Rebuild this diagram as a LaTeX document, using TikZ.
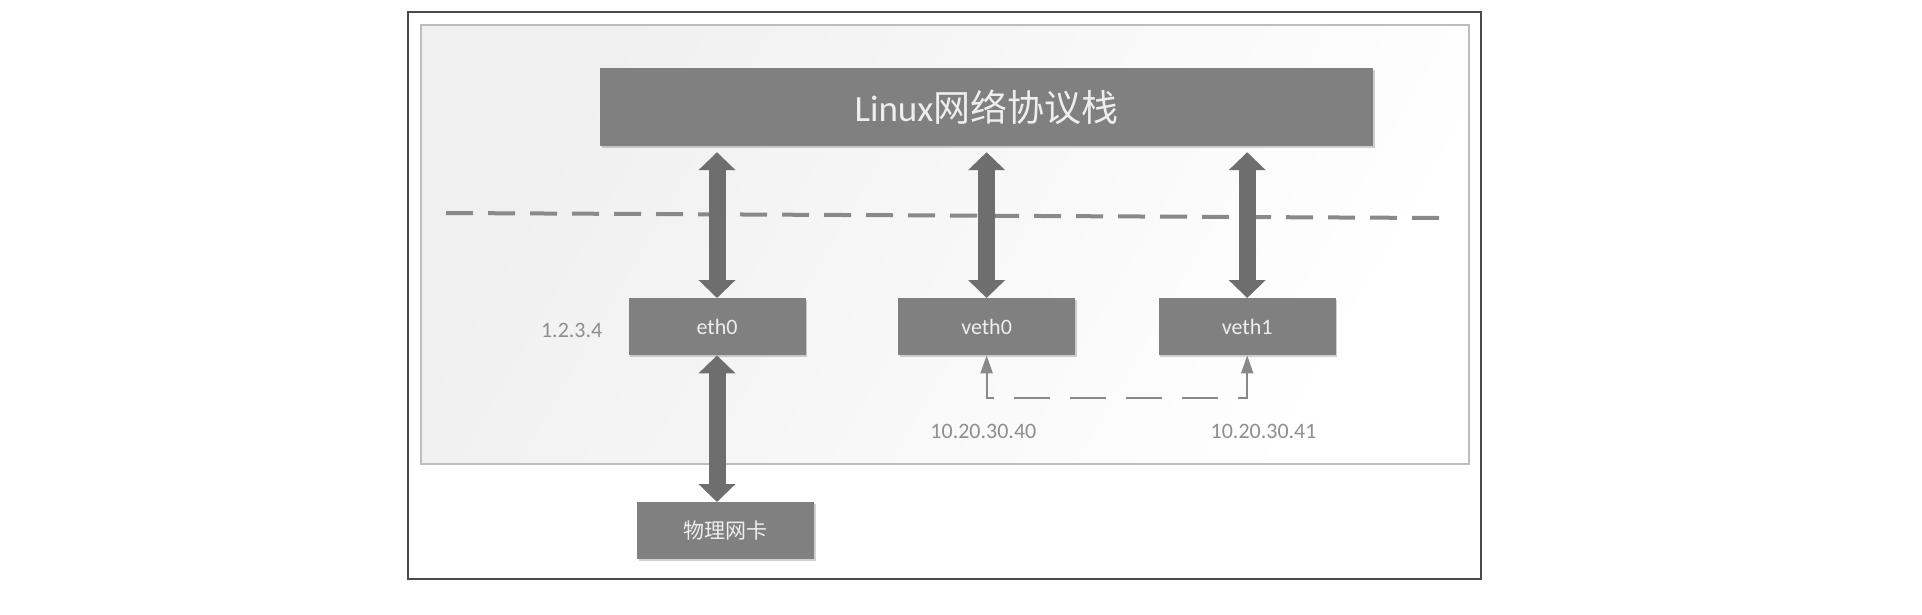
\documentclass[tikz,border=0pt]{standalone}
\usepackage{fontspec}
\setmainfont{Carlito}
\newfontfamily\cjk{Noto Sans CJK SC}
\usetikzlibrary{arrows.meta,shadows}
\definecolor{boxgray}{HTML}{808080}
\definecolor{arrowgray}{HTML}{6E6E6E}
\definecolor{boxtext}{HTML}{EEEEEE}
\definecolor{ipgray}{HTML}{8E8E8E}
\definecolor{dashgray}{HTML}{898989}
\definecolor{framegray}{HTML}{4A4A4A}
\definecolor{innergray}{HTML}{BDBDBD}
\tikzset{
  graybox/.style={draw=none, fill=boxgray, text=boxtext, inner sep=0pt,
    drop shadow={shadow xshift=1.5pt, shadow yshift=-1.5pt, opacity=0.18, fill=black}},
  smallbox/.style={graybox, minimum width=177pt, minimum height=57pt,
    font=\fontsize{22}{26}\selectfont},
  iplabel/.style={text=ipgray, inner sep=0pt, font=\fontsize{22}{26}\selectfont},
  bigarrow/.style={draw=arrowgray, line width=17pt,
    {Triangle[width=36pt,length=18pt]}-{Triangle[width=36pt,length=18pt]}},
  linkarrow/.style={draw=dashgray, line width=2pt,
    dash pattern=on 36pt off 20pt, dash phase=3pt,
    {Triangle[width=12pt,length=18pt]}-{Triangle[width=12pt,length=18pt]}},
  sepline/.style={draw=dashgray, line width=4pt, dash pattern=on 27pt off 15pt},
}
\begin{document}
\begin{tikzpicture}[x=1pt,y=-1pt]
\useasboundingbox (0,0) rectangle (1922,614);
% outer frame
\draw[framegray, line width=2pt] (408,12) rectangle (1481,579);
% inner area
\draw[innergray, line width=2pt, left color=black!6, right color=white, shading angle=60]
  (421,25) rectangle (1469,464);
% separator
\coordinate (sepL) at (446,213);
\coordinate (sepR) at (1440,218);
\draw[sepline] (sepL) -- (sepR);
% nodes
\node[graybox, minimum width=773pt, minimum height=78pt,
  font=\fontsize{37}{42}\selectfont] (linux) at (986.5,107) {Linux{\cjk 网络协议栈}};
\node[smallbox] (eth0) at (717,326.7) {eth0};
\node[smallbox] (veth0) at (986.6,326.7) {veth0};
\node[smallbox] (veth1) at (1247.2,326.7) {veth1};
\node[smallbox, font=\cjk\fontsize{21}{26}\selectfont] (nic) at (725.5,530.7) {物理网卡};
\node[iplabel] (ip1) at (571.7,330) {1.2.3.4};
\node[iplabel] (ip2) at (983.4,431) {10.20.30.40};
\node[iplabel] (ip3) at (1263.6,431) {10.20.30.41};
% arrows
\draw[bigarrow] ([yshift=-6pt]eth0.north |- linux.south) -- (eth0.north);
\draw[bigarrow] ([yshift=-6pt]veth0.north |- linux.south) -- (veth0.north);
\draw[bigarrow] ([yshift=-6pt]veth1.north |- linux.south) -- (veth1.north);
\draw[bigarrow] (eth0.south) -- (eth0.south |- nic.north);
\draw[linkarrow] (veth0.south) -- ++(0,43) -| (veth1.south);
\end{tikzpicture}
\end{document}
